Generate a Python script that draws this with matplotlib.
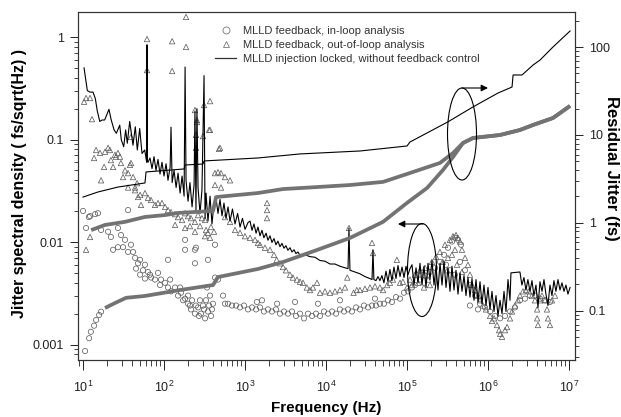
import numpy as np
import matplotlib
matplotlib.use('Agg')
import matplotlib.pyplot as plt
from matplotlib.lines import Line2D
from matplotlib.patches import Ellipse
from matplotlib.ticker import LogLocator, NullFormatter, FixedLocator, FixedFormatter

plt.rcParams['font.family'] = ['Liberation Sans', 'DejaVu Sans']
plt.rcParams['mathtext.fontset'] = 'custom'
plt.rcParams['mathtext.rm'] = 'Liberation Sans'

# --- spectral density, injection locked (left axis) ---
psd_f = [10.3, 11.3, 12.2, 13.3, 14.2, 15.0, 16.1, 17.2, 18.5, 20.0, 20.9, 22.3, 24.2, 25.8, 28.4, 29.7,
         31.8, 33.6, 35.2, 37.7, 39.5, 41.4, 44.2, 46.8, 50.1, 53.5, 57.8, 60.4, 61.2, 61.7, 62.2, 63.4,
         67.1, 71.1, 75.3, 79.6, 84.3, 89.3, 94.4, 100, 106, 112, 119, 122, 126, 133, 141, 149, 158, 167,
         177, 182, 187, 198, 209, 222, 235, 241, 248, 255, 263, 278, 294, 312, 321, 330, 349, 370, 391,
         414, 438, 464, 491, 520, 550, 582, 617, 653, 700, 753, 810, 868, 930, 1000, 1090,
         1153, 1220, 1290, 1370, 1445, 1531, 1620, 1710, 1820, 1920, 2035, 2150, 2280, 2410, 2550, 2703,
         2860, 3030, 3200, 3390, 3591, 3800, 4030, 4260, 4500, 4771, 5500, 6340, 7307, 8423, 9708,
         11190, 12900, 14870, 17140, 18700, 19200, 19760, 22770, 26250, 30260, 34880, 37000, 38000, 39000,
         41400, 43800, 46340, 49000, 51900, 55000, 58200, 61560, 65200, 69000, 73100, 77400, 81970, 86800,
         91800, 97300, 1.03e5, 1.089e5,
         1.153e5, 1.220e5, 1.292e5, 1.367e5, 1.447e5, 1.532e5, 1.622e5, 1.716e5, 1.817e5, 1.923e5,
         2.035e5, 2.154e5, 2.280e5, 2.414e5, 2.555e5, 2.704e5, 2.862e5, 3.030e5, 3.207e5, 3.395e5,
         3.593e5, 3.804e5, 4.026e5, 4.262e5, 4.511e5, 4.775e5, 5.054e5, 5.350e5, 5.663e5, 5.994e5,
         6.345e5, 6.716e5, 7.109e5, 7.525e5, 7.965e5, 8.431e5, 8.924e5, 9.446e5, 1.000e6, 1.058e6,
         1.120e6, 1.186e6, 1.255e6, 1.329e6, 1.406e6, 1.489e6, 1.576e6, 1.668e6, 1.766e6, 1.869e6,
         1.92e6, 2.48e6, 2.62e6, 2.78e6, 2.94e6, 3.11e6, 3.30e6, 3.49e6, 3.69e6, 3.91e6, 4.14e6,
         4.38e6, 4.64e6, 4.91e6, 5.19e6, 5.50e6, 5.82e6, 6.16e6, 6.52e6, 6.90e6, 7.31e6, 7.74e6,
         8.19e6, 8.67e6, 9.17e6, 9.71e6, 1.03e7]
psd_v = [0.50, 0.30, 0.29, 0.29, 0.25, 0.19, 0.15, 0.155, 0.155, 0.18, 0.197, 0.155, 0.124, 0.115, 0.138, 0.099,
         0.085, 0.124, 0.092, 0.15, 0.115, 0.088, 0.133, 0.079, 0.128, 0.073, 0.079, 0.063, 0.060, 0.84, 0.062, 0.060,
         0.066, 0.052, 0.068, 0.050, 0.064, 0.046, 0.060, 0.044, 0.058, 0.040, 0.054, 0.132, 0.038, 0.050, 0.034, 0.047, 0.030, 0.044,
         0.028, 0.51, 0.040, 0.025, 0.038, 0.022, 0.036, 0.19, 0.020, 0.20, 0.034, 0.019, 0.032, 0.42, 0.017, 0.030, 0.016, 0.028, 0.015,
         0.024, 0.027, 0.019, 0.026, 0.018, 0.024, 0.017, 0.022, 0.016, 0.021, 0.0150, 0.019, 0.0140, 0.017, 0.0133, 0.0155,
         0.0160, 0.0130, 0.0150, 0.0122, 0.0140, 0.0115, 0.0130, 0.0110, 0.0122, 0.0104, 0.0115, 0.0099, 0.0108, 0.0094, 0.0102, 0.0090,
         0.0097, 0.0087, 0.0092, 0.0083, 0.0088, 0.0080, 0.0084, 0.0077, 0.0080, 0.0074, 0.0075, 0.0072, 0.0071, 0.0066, 0.0065,
         0.0061, 0.0061, 0.0058, 0.0056, 0.0055, 0.0137, 0.0053, 0.0051, 0.0049, 0.0046, 0.0044, 0.0043, 0.0084, 0.0043,
         0.0042, 0.0046, 0.0042, 0.0047, 0.0040, 0.0052, 0.0041, 0.0054, 0.0042, 0.0057, 0.0044, 0.0059, 0.0046, 0.0057,
         0.0045, 0.0058, 0.0048, 0.0055,
         0.0060, 0.0038, 0.0056, 0.0040, 0.0062, 0.0038, 0.0058, 0.0036, 0.0062, 0.0043,
         0.0066, 0.0038, 0.0058, 0.0034, 0.0062, 0.0038, 0.0065, 0.0036, 0.0056, 0.0033,
         0.0058, 0.0034, 0.0053, 0.0031, 0.0050, 0.0033, 0.0047, 0.0030, 0.0045, 0.0029,
         0.0044, 0.0027, 0.0043, 0.0026, 0.0041, 0.0025, 0.0038, 0.0024, 0.0036, 0.0022,
         0.0033, 0.0021, 0.0030, 0.0019, 0.0027, 0.0020, 0.0033, 0.0021, 0.0043, 0.0027,
         0.0050, 0.0051, 0.0038, 0.0045, 0.0034, 0.0043, 0.0033, 0.0042, 0.0030, 0.0038, 0.0023,
         0.0041, 0.0033, 0.0043, 0.0031, 0.0024, 0.0038, 0.0030, 0.0042, 0.0033, 0.0043, 0.0034,
         0.0040, 0.0033, 0.0038, 0.0031, 0.0036]

# --- out-of-loop analysis, triangles (left axis) ---
oop_f = [10.3, 10.9, 12.2, 12.9, 10.9, 12.2, 13.7, 14.5, 16.2, 18.7, 20.4, 21.5, 22.1, 24.8, 25.5, 27.0,
         28.6, 29.4, 33.0, 38.0, 39.1, 39.1, 16.7, 18.2, 23.5, 31.2, 36.0, 41.5, 46.5, 43.9,
         61.7, 61.7, 126, 126, 187, 187, 241, 255, 248, 303, 312, 370, 370, 491, 248, 255, 360, 477,
         426, 464, 505, 566, 653, 426, 505,
         36.0, 43.9, 47.8, 52.0, 58.2, 69.1, 84.3, 103, 122, 149, 182, 215, 263, 321, 349, 380,
         50.6, 63.4, 77.4, 94.4, 112, 137, 167, 198, 241, 294, 278, 330, 137, 182, 241, 321, 370, 414, 209,
         566, 653, 753, 868, 1000, 1153, 1328, 1445, 1531, 1765, 1870, 1870, 1870, 2035, 2280, 2460, 2703,
         2944, 3200, 3591, 3900, 4380, 4771, 5200, 5800, 6340, 6900, 7740, 8423, 9708, 11190, 12900, 14870,
         17140, 18300, 19200, 21900, 24000, 26250, 30260, 34880, 37000, 38000, 40200, 46340, 50600, 56800,
         61560, 67000, 75000, 81970, 89000, 1.0e5, 1.089e5,
         1.255e5, 1.447e5, 1.668e5, 1.82e5, 2.03e5, 2.28e5, 2.55e5, 2.94e5, 3.39e5, 3.70e5, 4.03e5, 4.26e5,
         4.51e5, 4.77e5, 5.20e5, 5.66e5, 5.99e5, 6.34e5, 6.90e5, 7.52e5, 7.96e5, 8.66e5, 9.45e5, 1.06e6,
         1.12e6, 1.19e6, 1.29e6, 1.37e6, 1.41e6, 1.49e6, 1.62e6, 1.72e6, 1.87e6, 1.98e6, 2.15e6, 2.34e6,
         2.48e6, 2.70e6, 2.94e6, 3.20e6, 3.49e6, 3.80e6, 4.04e6, 4.04e6, 4.14e6, 4.38e6, 4.64e6, 5.05e6,
         5.35e6, 5.50e6, 5.82e6, 6.16e6, 6.71e6,
         2.76e5, 3.14e5, 3.59e5, 4.14e5, 4.77e5, 3.91e5, 3.20e5, 1.15e5, 1.37e5, 1.62e5, 1.92e5]
oop_v = [0.233, 0.254, 0.254, 0.158, 0.0084, 0.0112, 0.066, 0.079, 0.074, 0.076, 0.083, 0.079, 0.063, 0.071, 0.068, 0.074,
         0.068, 0.059, 0.050, 0.0565, 0.059, 0.106, 0.040, 0.054, 0.054, 0.043, 0.047, 0.043, 0.0375, 0.034,
         0.955, 0.476, 0.91, 0.466, 1.57, 0.80, 0.194, 0.155, 0.111, 0.108, 0.217, 0.237, 0.124, 0.083, 0.083, 0.148, 0.124, 0.081,
         0.047, 0.048, 0.047, 0.043, 0.040, 0.036, 0.034,
         0.034, 0.032, 0.0275, 0.023, 0.030, 0.0257, 0.024, 0.022, 0.0196, 0.0175, 0.0191, 0.0171, 0.0183, 0.0164, 0.0123, 0.0140,
         0.0288, 0.0270, 0.0230, 0.0240, 0.0205, 0.0187, 0.0164, 0.0179, 0.0157, 0.0171, 0.0143, 0.0131, 0.0147, 0.0137, 0.0126, 0.0114, 0.0110, 0.0126, 0.0143,
         0.0175, 0.0157, 0.0131, 0.0123, 0.0114, 0.0110, 0.0105, 0.0098, 0.0094, 0.0088, 0.0240, 0.0205, 0.0171, 0.0084, 0.0075, 0.0067, 0.0062,
         0.0057, 0.0053, 0.0048, 0.0045, 0.0043, 0.0041, 0.0040, 0.0036, 0.0034, 0.0036, 0.0040, 0.0032, 0.0033, 0.0032, 0.0033, 0.0034,
         0.0036, 0.0045, 0.0137, 0.0032, 0.0034, 0.0034, 0.0035, 0.0036, 0.0098, 0.0078, 0.0037, 0.0036, 0.0034, 0.0038,
         0.0040, 0.0043, 0.0067, 0.0040, 0.0041, 0.0036, 0.0043,
         0.0048, 0.0053, 0.0056, 0.0043, 0.0064, 0.0072, 0.0080, 0.0094, 0.0105, 0.0114, 0.0117, 0.0110,
         0.0101, 0.0084, 0.0070, 0.0060, 0.0048, 0.0038, 0.0034, 0.0030, 0.0027, 0.0024, 0.0022, 0.0019,
         0.0017, 0.0018, 0.00155, 0.00138, 0.00127, 0.00119, 0.00138, 0.00148, 0.0018, 0.0021, 0.0024, 0.0027,
         0.0030, 0.0033, 0.0034, 0.0033, 0.0030, 0.0027, 0.0022, 0.0018, 0.00155, 0.0027, 0.0030, 0.0027,
         0.0022, 0.0018, 0.00155, 0.0027, 0.0030,
         0.0064, 0.0053, 0.0075, 0.0060, 0.0051, 0.0084, 0.0070, 0.0038, 0.0040, 0.0036, 0.0038]

# --- in-loop analysis, circles (left axis) ---
inl_f = [10.0, 11.8, 14.1, 15.3, 10.9, 12.2, 16.7, 20.4, 22.1, 27.0, 29.4, 33.0, 23.5, 27.0, 31.2, 36.0,
         39.1, 41.5, 43.9, 47.8, 45.1, 50.6, 55.0, 58.2, 63.4, 69.1, 77.4, 84.3, 91.8, 103, 112, 122,
         137, 149, 162, 182, 198, 215, 241, 263, 286, 321, 349, 380, 402, 370, 340, 426, 464, 535, 566,
         112, 182, 182, 241, 241, 349, 426, 36.0, 248,
         172, 198, 222, 248, 278, 303, 330, 360, 391, 209, 270, 312, 158, 119, 89.3, 67.1, 58.2, 50.6,
         617, 690, 775, 868, 972, 1090, 1220, 1370, 1531, 1710, 1920, 2150, 2410, 2703, 3030, 3390,
         3800, 4260, 4771, 5350, 6000, 6720, 7530, 8423, 9440, 10600, 11900, 13300, 14870, 16700, 18700,
         20900, 23500, 26250, 29400, 33000, 37000, 41400, 46340, 51900, 58200, 65200, 73100, 81970,
         91800, 1.03e5, 1.15e5,
         1400, 2490, 4139, 1620, 7950, 14870, 40200,
         1.255e5, 1.447e5, 1.668e5, 1.92e5, 2.22e5, 2.55e5, 2.86e5, 3.21e5, 3.59e5, 3.91e5, 4.26e5, 4.65e5,
         3.03e5, 3.39e5, 3.91e5, 4.51e5, 5.20e5, 5.99e5, 6.90e5, 7.96e5, 9.17e5, 1.06e6, 1.22e6, 1.41e6,
         1.62e6, 1.87e6, 2.15e6, 2.48e6, 2.86e6, 3.30e6, 3.80e6, 4.38e6, 5.05e6, 5.82e6, 7.52e5, 5.99e5]
inl_v = [0.0201, 0.0175, 0.0187, 0.0191, 0.0137, 0.0179, 0.0131, 0.0126, 0.0112, 0.0137, 0.0117, 0.0105, 0.0084, 0.0089, 0.0089, 0.0080,
         0.0094, 0.0080, 0.0070, 0.0062, 0.0055, 0.0048, 0.0053, 0.0044, 0.0051, 0.0045, 0.0043, 0.0050, 0.0043, 0.0040, 0.0036, 0.0033,
         0.0036, 0.0030, 0.0032, 0.0028, 0.0025, 0.0022, 0.0020, 0.0023, 0.0020, 0.0018, 0.0021, 0.0019, 0.0025, 0.0030, 0.0036, 0.0045, 0.0043, 0.0030, 0.0025,
         0.0067, 0.0105, 0.0084, 0.0084, 0.0062, 0.0067, 0.0094, 0.0205, 0.0088,
         0.0027, 0.0030, 0.0027, 0.0024, 0.0027, 0.0024, 0.0027, 0.0024, 0.0022, 0.0024, 0.0019, 0.0022, 0.0036, 0.0043, 0.0038, 0.0048, 0.0060, 0.0067,
         0.0025, 0.0024, 0.0024, 0.0023, 0.0024, 0.0022, 0.0023, 0.0022, 0.0023, 0.0021, 0.0022, 0.0021, 0.0022, 0.0020, 0.0021, 0.0020,
         0.0021, 0.0019, 0.0020, 0.0018, 0.0020, 0.0019, 0.0020, 0.0019, 0.0021, 0.0020, 0.0021, 0.0020, 0.0022, 0.0021, 0.0022,
         0.0021, 0.0023, 0.0022, 0.0024, 0.0023, 0.0024, 0.0024, 0.0025, 0.0025, 0.0027, 0.0026, 0.0029, 0.0028,
         0.0032, 0.0033, 0.0036,
         0.0026, 0.0025, 0.0026, 0.0027, 0.0025, 0.0027, 0.0028,
         0.0038, 0.0043, 0.0047, 0.0051, 0.0056, 0.0064, 0.0075, 0.0088, 0.0101, 0.0110, 0.0105, 0.0094,
         0.0060, 0.0053, 0.0048, 0.0064, 0.0053, 0.0038, 0.0030, 0.0025, 0.0023, 0.0021, 0.0019, 0.0018,
         0.0019, 0.0021, 0.0023, 0.0027, 0.0028, 0.0030, 0.0030, 0.0028, 0.0027, 0.0026, 0.0022, 0.0024]

# --- integrated residual jitter (right axis) ---
int_lock_f = [10, 15.3, 27, 47.8, 58.2, 60, 177, 182, 303, 312, 1445, 4775, 26300, 1.0e5, 1.09e5,
              3.2e5, 6.5e5, 1.33e6, 1.98e6, 2.04e6, 2.63e6, 3.6e6, 4.39e6, 6.34e6, 1.03e7]
int_lock_v = [1.97, 2.25, 2.56, 2.77, 2.85, 3.80, 4.11, 4.56, 4.68, 5.07, 5.48, 6.09, 6.58, 7.50, 8.33,
              14.1, 20.8, 30.0, 35.1, 48.1, 48.1, 62.4, 71.1, 100, 152]
int_oop_f = [12.6, 18.7, 33, 58, 103, 149, 403, 439, 1445, 2944, 7740, 19800, 50600, 1.09e5, 2.55e5,
             3.7e5, 4.91e5, 6.53e5, 1.41e6, 2.48e6, 3.6e6, 6.34e6, 1.03e7]
int_oop_v = [0.83, 0.95, 1.03, 1.17, 1.23, 1.30, 1.37, 1.97, 2.19, 2.43, 2.56, 2.70, 2.93, 3.70, 4.81,
             6.24, 8.11, 9.25, 10.0, 11.4, 13.0, 15.6, 21.4]
int_inl_f = [18.7, 24.8, 34, 58, 158, 403, 464, 1445, 2944, 7740, 19800, 50600, 1.0e5, 1.77e5, 2.78e5,
             3.7e5, 4.91e5, 6.53e5, 1.41e6, 2.48e6, 3.6e6, 6.34e6, 1.03e7]
int_inl_v = [0.108, 0.123, 0.141, 0.148, 0.173, 0.197, 0.243, 0.300, 0.360, 0.493, 0.676, 1.03, 1.69, 2.50, 4.0,
             5.62, 8.11, 9.25, 10.0, 11.4, 13.0, 15.6, 21.4]
int_inl_pts_f = [10.6, 11.9, 12.5, 13.7, 14.5, 15.8, 16.7]
int_inl_pts_v = [0.035, 0.049, 0.058, 0.068, 0.079, 0.090, 0.098]

legend_labels = ['MLLD feedback, in-loop analysis',
                 'MLLD feedback, out-of-loop analysis',
                 'MLLD injection locked, without feedback control']

W, H = 621, 417
fig = plt.figure(figsize=(W / 100, H / 100), dpi=100)
ax = fig.add_axes([78 / W, 1 - 360 / H, 497 / W, 348 / H])
ax2 = ax.twinx()

mk_col = '#606060'
ax.scatter(inl_f, inl_v, s=14, marker='o', facecolors='none', edgecolors=mk_col, linewidths=0.55, zorder=2)
ax.scatter(oop_f, oop_v, s=15, marker='^', facecolors='none', edgecolors=mk_col, linewidths=0.55, zorder=2)
ax.plot(psd_f, psd_v, color='black', lw=0.8, zorder=3)

ax2.plot(int_oop_f, int_oop_v, color='#737373', lw=2.7, solid_capstyle='butt')
ax2.plot(int_inl_f, int_inl_v, color='#737373', lw=2.7, solid_capstyle='butt')
ax2.scatter(int_inl_pts_f, int_inl_pts_v, s=14, marker='o', facecolors='none', edgecolors=mk_col, linewidths=0.55)
ax2.plot(int_lock_f, int_lock_v, color='black', lw=0.8)

ax.set_xscale('log')
ax.set_yscale('log')
ax2.set_yscale('log')
ax.set_xlim(8.67, 1.186e7)
ax.set_ylim(7.06e-4, 1.754)
ax2.set_ylim(0.0277, 250)

ax.xaxis.set_major_locator(FixedLocator([1e1, 1e2, 1e3, 1e4, 1e5, 1e6, 1e7]))
ax.xaxis.set_major_formatter(FixedFormatter([r'$10^{%d}$' % k for k in range(1, 8)]))
ax.xaxis.set_minor_locator(LogLocator(base=10, subs=np.arange(2, 10), numticks=20))
ax.xaxis.set_minor_formatter(NullFormatter())
ax.yaxis.set_major_locator(FixedLocator([0.001, 0.01, 0.1, 1]))
ax.yaxis.set_major_formatter(FixedFormatter(['0.001', '0.01', '0.1', '1']))
ax.yaxis.set_minor_locator(LogLocator(base=10, subs=np.arange(2, 10), numticks=20))
ax.yaxis.set_minor_formatter(NullFormatter())
ax2.yaxis.set_major_locator(FixedLocator([0.1, 1, 10, 100]))
ax2.yaxis.set_major_formatter(FixedFormatter(['0.1', '1', '10', '100']))
ax2.yaxis.set_minor_locator(LogLocator(base=10, subs=np.arange(2, 10), numticks=20))
ax2.yaxis.set_minor_formatter(NullFormatter())

for a in (ax, ax2):
    a.tick_params(which='major', direction='out', length=6, width=0.7, labelsize=9, colors='#222222', pad=4)
    a.tick_params(which='minor', direction='out', length=3, width=0.6, colors='#222222')
    for s in a.spines.values():
        s.set_linewidth(0.8)
        s.set_color('#333333')
ax.tick_params(axis='x', which='major', length=7, pad=7)
ax.tick_params(axis='x', which='minor', length=4)

fig.text(326 / W, 1 - 408 / H, 'Frequency (Hz)', ha='center', va='center', fontsize=11, fontweight='bold')
fig.text(20 / W, 1 - 183 / H, 'Jitter spectral density ( fs/sqrt(Hz) )', ha='center', va='center',
         rotation=90, fontsize=11.5, fontweight='bold')
fig.text(612 / W, 1 - 168 / H, 'Residual Jitter (fs)', ha='center', va='center',
         rotation=-90, fontsize=12, fontweight='bold')

# ellipses and arrows marking which curves go with which axis
fig.patches.append(Ellipse((462 / W, 1 - 134 / H), 29 / W, 92 / H, transform=fig.transFigure,
                           fill=False, ec='black', lw=0.8))
fig.patches.append(Ellipse((422 / W, 1 - 270 / H), 29 / W, 93 / H, transform=fig.transFigure,
                           fill=False, ec='black', lw=0.8))
ax2.annotate('', xy=(488 / W, 1 - 88 / H), xytext=(462 / W, 1 - 88 / H), xycoords='figure fraction',
             arrowprops=dict(arrowstyle='-|>', color='black', lw=0.8, mutation_scale=10, shrinkA=0, shrinkB=0))
ax2.annotate('', xy=(398 / W, 1 - 224 / H), xytext=(423 / W, 1 - 224 / H), xycoords='figure fraction',
             arrowprops=dict(arrowstyle='-|>', color='black', lw=0.8, mutation_scale=10, shrinkA=0, shrinkB=0))

handles = [Line2D([], [], ls='none', marker='o', mfc='none', mec='#777777', ms=5, mew=0.6),
           Line2D([], [], ls='none', marker='^', mfc='none', mec='#777777', ms=5, mew=0.6),
           Line2D([], [], color='#333333', lw=0.9)]
leg = ax2.legend(handles, legend_labels, loc='upper left', bbox_to_anchor=(215 / W, 1 - 26 / H),
                 bbox_transform=fig.transFigure, frameon=False, fontsize=8, handlelength=1.9,
                 handletextpad=0.6, labelspacing=0.35, borderpad=0, borderaxespad=0)
for t in leg.get_texts():
    t.set_color('#333333')

fig.savefig('out.png', dpi=100)
